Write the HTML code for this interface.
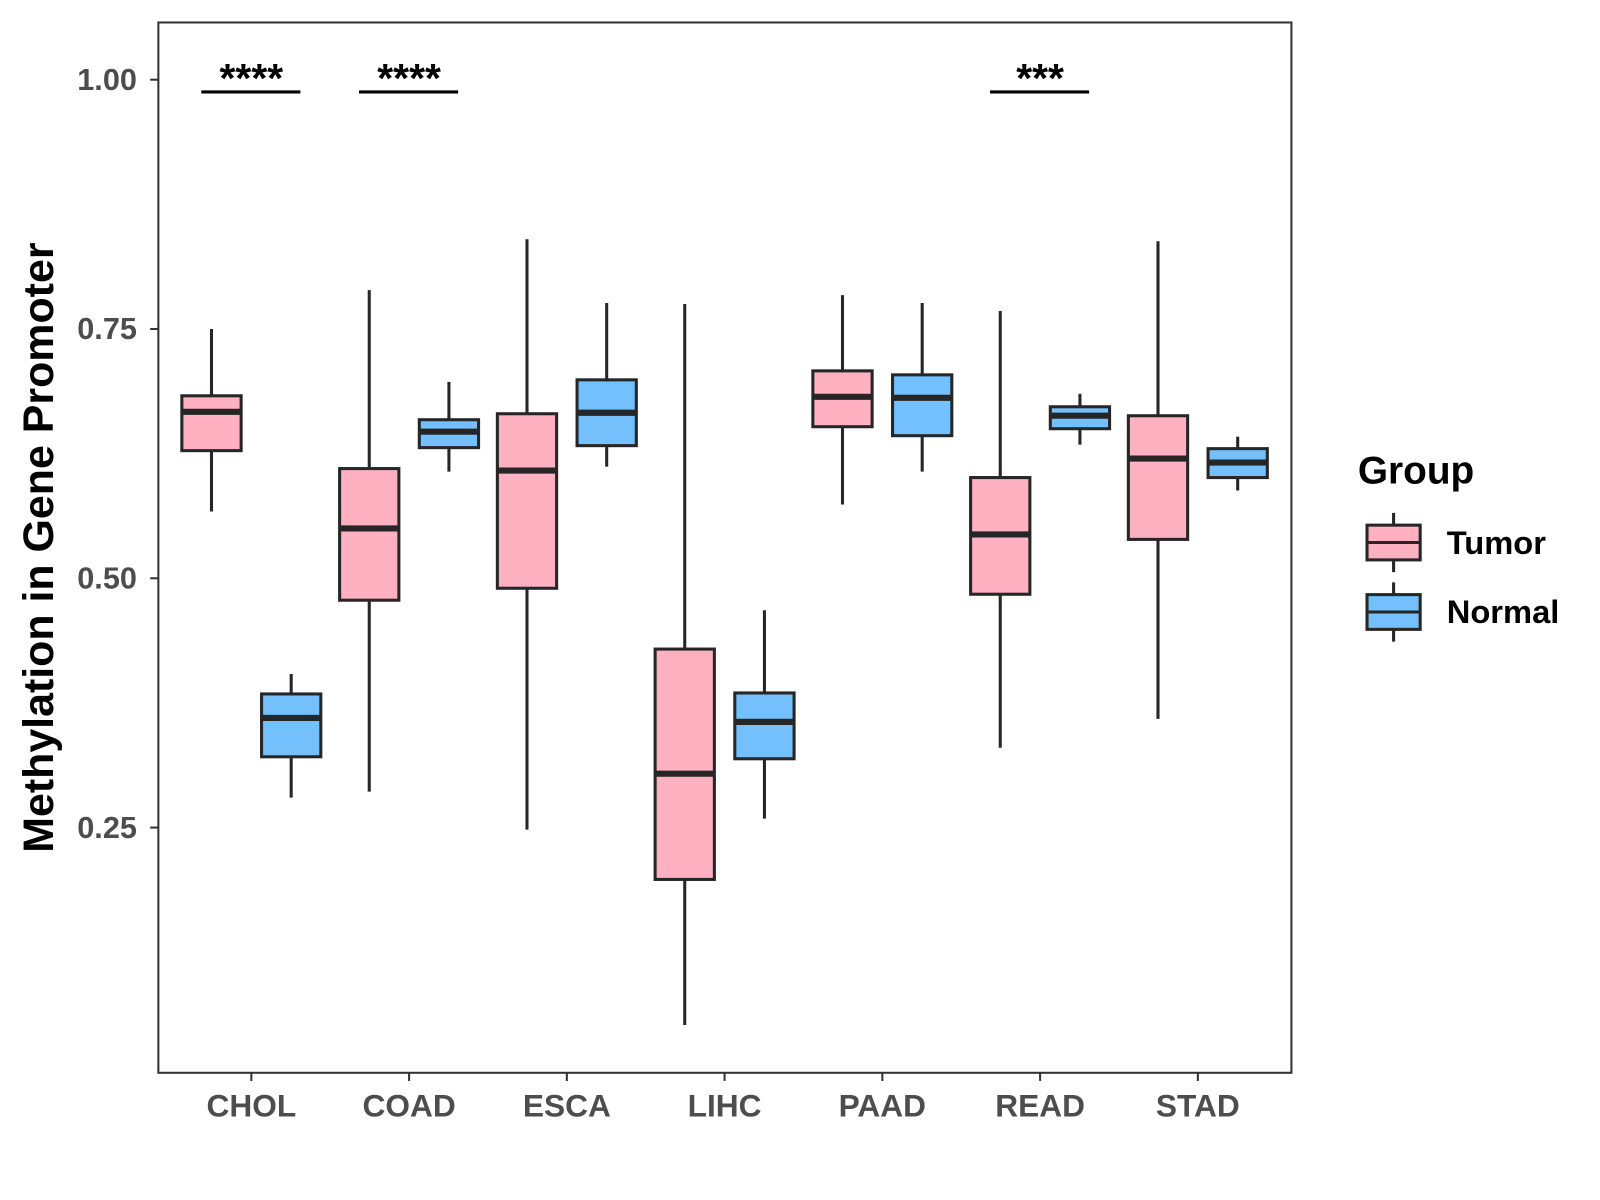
<!DOCTYPE html>
<html><head><meta charset="utf-8"><style>html,body{margin:0;padding:0;background:#fff}svg{display:block}</style></head>
<body>
<svg id="chart" width="1600" height="1200" xmlns="http://www.w3.org/2000/svg" font-family="'Liberation Sans', sans-serif"><g id="root" transform="scale(1.0217)"></g></svg>
<script>
const categories = ["CHOL","COAD","ESCA","LIHC","PAAD","READ","STAD"];
// [whiskerLow, q1, median, q3, whiskerHigh]
const tumorStats = [
  [0.567,0.628,0.667,0.683,0.750],
  [0.286,0.478,0.550,0.610,0.789],
  [0.248,0.490,0.608,0.665,0.840],
  [0.052,0.198,0.304,0.429,0.775],
  [0.574,0.652,0.682,0.708,0.784],
  [0.330,0.484,0.544,0.601,0.768],
  [0.359,0.539,0.620,0.663,0.838]
];
const normalStats = [
  [0.280,0.321,0.360,0.384,0.404],
  [0.607,0.631,0.647,0.659,0.697],
  [0.612,0.633,0.666,0.699,0.776],
  [0.259,0.319,0.356,0.385,0.468],
  [0.607,0.643,0.681,0.704,0.776],
  [0.634,0.650,0.663,0.672,0.685],
  [0.588,0.601,0.616,0.630,0.642]
];
const yTicks = [0.25,0.50,0.75,1.00];
const yTickLabels = ["0.25","0.50","0.75","1.00"];
const sigCategories = ["CHOL","COAD","READ"];
const sigLabels = ["****","****","***"];

const svg = document.getElementById('root');
const NS = "http://www.w3.org/2000/svg";
function el(tag, attrs, parent){const e=document.createElementNS(NS,tag);for(const k in attrs)e.setAttribute(k,attrs[k]);(parent||svg).appendChild(e);return e;}
const yScale = v => 78 + (1 - v) * 976;
const xScale = i => 246 + i * 154.4;
const TUMOR="#FFB0C1", NORMAL="#74C0FC", INK="#262626";

const panel = el('rect',{x:155,y:22,width:1109,height:1028,fill:'none',stroke:'#333','stroke-width':2});



yTicks.forEach((t,i)=>{
  const y=yScale(t);
  const tk=el('line',{x1:147,x2:155,y1:y,y2:y,stroke:'#333','stroke-width':2});
  
  
  const lb=el('text',{x:134,y:y+10,'text-anchor':'end','font-size':30,'font-weight':'bold',fill:'#4d4d4d'});
  lb.textContent=yTickLabels[i];
  
  
});
categories.forEach((c,i)=>{
  const x=xScale(i);
  const tk=el('line',{x1:x,x2:x,y1:1050,y2:1058,stroke:'#333','stroke-width':2});
  
  
  const lb=el('text',{x:x,y:1093,'text-anchor':'middle','font-size':31,'font-weight':'bold',fill:'#4d4d4d'});
  lb.textContent=c;
  
  
});

function drawBox(cx, s, fill, name){
  const g=el('g',{});
  
  
  const w=58;
  el('line',{x1:cx,x2:cx,y1:yScale(s[4]),y2:yScale(s[0]),stroke:INK,'stroke-width':3},g);
  el('rect',{x:cx-w/2,y:yScale(s[3]),width:w,height:yScale(s[1])-yScale(s[3]),fill:fill,stroke:INK,'stroke-width':3},g);
  el('line',{x1:cx-w/2,x2:cx+w/2,y1:yScale(s[2]),y2:yScale(s[2]),stroke:INK,'stroke-width':6},g);
}
categories.forEach((c,i)=>{
  drawBox(xScale(i)-39, tumorStats[i], TUMOR, 'box-tumor-'+c.toLowerCase());
  drawBox(xScale(i)+39, normalStats[i], NORMAL, 'box-normal-'+c.toLowerCase());
});

sigCategories.forEach((c,k)=>{
  const x=xScale(categories.indexOf(c));
  const ln=el('line',{x1:x-49,x2:x+48,y1:90,y2:90,stroke:'#000','stroke-width':3});
  
  
  const t=el('text',{x:x,y:90,'text-anchor':'middle','font-size':40,'font-weight':'bold',fill:'#000'});
  t.textContent=sigLabels[k];
  
  
});

const yt=el('text',{x:0,y:0,transform:'translate(52,536) rotate(-90)','text-anchor':'middle','font-size':42,'font-weight':'bold',fill:'#000'});
yt.textContent='Methylation in Gene Promoter';



const lt=el('text',{x:1329,y:473,'font-size':38,'font-weight':'bold',fill:'#000'});
lt.textContent='Group';


[["Tumor",TUMOR,531],["Normal",NORMAL,599]].forEach(([n,f,cy])=>{
  const g=el('g',{});
  
  
  el('line',{x1:1364,x2:1364,y1:cy-29,y2:cy+29,stroke:INK,'stroke-width':3},g);
  el('rect',{x:1338,y:cy-17,width:52,height:34,fill:f,stroke:INK,'stroke-width':3},g);
  el('line',{x1:1338,x2:1390,y1:cy,y2:cy,stroke:INK,'stroke-width':3},g);
  const t=el('text',{x:1416,y:cy+11,'font-size':32,'font-weight':'bold',fill:'#000'},g);
  t.textContent=n;
});
</script>
</body></html>
